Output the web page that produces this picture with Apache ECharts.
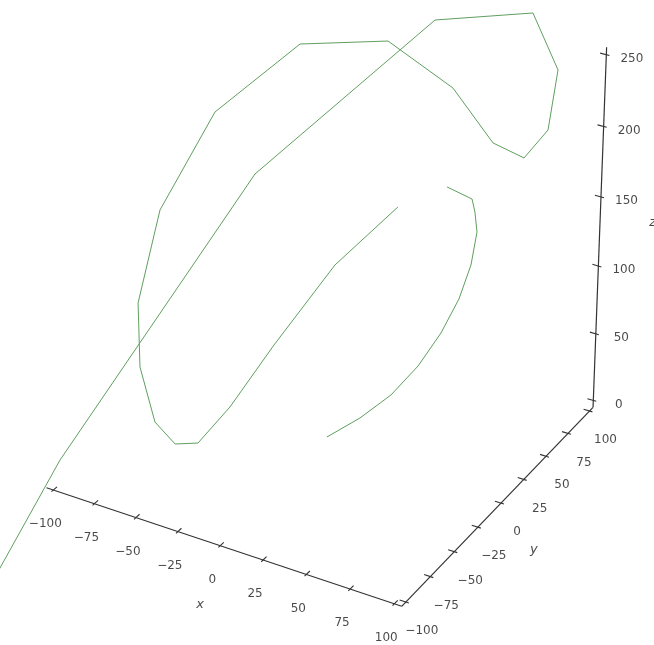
<!DOCTYPE html>
<html>
<head>
<meta charset="utf-8">
<script src="https://cdn.jsdelivr.net/npm/echarts@6/dist/echarts.min.js"></script>
<style>
  html, body { margin: 0; padding: 0; background: #ffffff; }
  #chart { width: 654px; height: 645px; }
</style>
</head>
<body>
<div id="chart"></div>
<script>
// ---- axis limits and tick values ----
const xLim = [-100, 100];
const yLim = [-100, 100];
const zLim = [0, 250];
const xTicks = [-100, -75, -50, -25, 0, 25, 50, 75, 100];
const yTicks = [-100, -75, -50, -25, 0, 25, 50, 75, 100];
const zTicks = [0, 50, 100, 150, 200, 250];

// ---- the 3D curve: inner arc, then the outer loops ----
const innerX = [-0.1, 14.6, 26.5, 35.7, 43.0, 48.3, 50.3, 50.8, 48.1, 45.8, 32.8];
const innerY = [3.2, 12.1, 23.6, 35.7, 46.7, 55.9, 64.7, 69.7, 72.1, 73.0, 69.9];
const innerZ = [0, 14, 28, 45, 65, 86, 106, 127, 139, 147, 153];

const outerX = [14.7, -5.7, -22.5, -35.2, -43.2, -50.2, -58.3, -67.9, -74.7, -71.8, -59.2, -29.8,
                3.9, 37.5, 63.5, 83.6, 97.4, 107.1, 100.1, 62.6, -7.7, -90.9, -128.9];
const outerY = [50.5, 21.1, -12.4, -35.7, -54.5, -65.4, -71.3, -69.2, -59.0, -41.0, -7.3, 27.5,
                58.0, 65.6, 60.8, 56.2, 54.5, 44.0, 28.9, -1.3, -54.2, -110.4, -142.5];
const outerZ = [144, 113, 70, 35, 18, 22, 39, 74, 111, 167, 220, 257,
                253, 227, 200, 199, 224, 274, 318, 318, 222, 25, -89];

// ---- view (elevation / azimuth / camera distance) ----
const ELEV = 30, AZIM = -60, DIST = 10;

// the drawn box is a little larger than the limits (1/48 of the range on each side)
function padded(lim) { const d = (lim[1] - lim[0]) / 48; return [lim[0] - d, lim[1] + d]; }
const XB = padded(xLim), YB = padded(yLim), ZB = padded(zLim);

const er = ELEV * Math.PI / 180, ar = AZIM * Math.PI / 180;
const nV = [Math.cos(ar) * Math.cos(er), Math.sin(ar) * Math.cos(er), Math.sin(er)];
const uV = [-Math.sin(ar), Math.cos(ar), 0];
const vV = [nV[1] * uV[2] - nV[2] * uV[1], nV[2] * uV[0] - nV[0] * uV[2], nV[0] * uV[1] - nV[1] * uV[0]];
const dot = (p, q) => p[0] * q[0] + p[1] * q[1] + p[2] * q[2];

// perspective projection of a data point onto the view plane
function project(x, y, z) {
  const d = [
    (x - XB[0]) / (XB[1] - XB[0]) - 0.5,
    (y - YB[0]) / (YB[1] - YB[0]) - 0.5,
    (z - ZB[0]) / (ZB[1] - ZB[0]) - 0.5
  ];
  const w = DIST - dot(nV, d);
  return [dot(uV, d) / w, dot(vV, d) / w];
}

const curve = (xs, ys, zs) => xs.map((x, i) => project(x, ys[i], zs[i]));

// tick marks run along a neighbouring axis direction
const dX = (XB[1] - XB[0]) / 12, dY = (YB[1] - YB[0]) / 12;
const tickSegs = [];
xTicks.forEach(t => tickSegs.push({ coords: [project(t, YB[0] - 0.1 * dY, ZB[0]), project(t, YB[0] + 0.2 * dY, ZB[0])] }));
yTicks.forEach(t => tickSegs.push({ coords: [project(XB[1] + 0.1 * dX, t, ZB[0]), project(XB[1] - 0.2 * dX, t, ZB[0])] }));
zTicks.forEach(t => tickSegs.push({ coords: [project(XB[1] + 0.1 * dX, YB[1], t), project(XB[1] - 0.2 * dX, YB[1], t)] }));

const spines = [
  { coords: [project(XB[0], YB[0], ZB[0]), project(XB[1], YB[0], ZB[0])] },
  { coords: [project(XB[1], YB[0], ZB[0]), project(XB[1], YB[1], ZB[0])] },
  { coords: [project(XB[1], YB[1], ZB[0]), project(XB[1], YB[1], ZB[1])] }
];

const fmt = v => (v < 0 ? '\u2212' + Math.abs(v) : String(v));
const textColor = '#1a1a1a';
const tickFont = { fontFamily: 'DejaVu Sans', fontSize: 12, color: textColor };

function labelSeries(points, offset, extra) {
  return {
    type: 'scatter',
    symbolSize: 1,
    itemStyle: { color: 'rgba(0,0,0,0)' },
    silent: true,
    z: 5,
    data: points,
    label: Object.assign({
      show: true, position: 'inside', formatter: '{b}', offset: offset,
      align: 'center', verticalAlign: 'middle'
    }, tickFont, extra || {})
  };
}

const xLabels = xTicks.map(t => ({ name: fmt(t), value: project(t, YB[0], ZB[0]) }));
const yLabels = yTicks.map(t => ({ name: fmt(t), value: project(XB[1], t, ZB[0]) }));
const zLabels = zTicks.map(t => ({ name: fmt(t), value: project(XB[1], YB[1], t) }));

const axisNameStyle = { fontStyle: 'italic', fontSize: 13 };

const chart = echarts.init(document.getElementById('chart'), null, { renderer: 'canvas' });
chart.setOption({
  animation: false,
  backgroundColor: '#ffffff',
  grid: { left: -65.5, top: -108.5, width: 758.5, height: 777, outerBoundsMode: 'none', containLabel: false },
  xAxis: { type: 'value', min: -0.095, max: 0.09, show: false },
  yAxis: { type: 'value', min: -0.095, max: 0.09, show: false },
  series: [
    {
      type: 'lines', coordinateSystem: 'cartesian2d', polyline: true, silent: true, clip: false,
      lineStyle: { color: '#333333', width: 1.2, opacity: 1 },
      data: spines, z: 2
    },
    {
      type: 'lines', coordinateSystem: 'cartesian2d', silent: true, clip: false,
      lineStyle: { color: '#333333', width: 1.1, opacity: 1 },
      data: tickSegs, z: 2
    },
    {
      type: 'lines', coordinateSystem: 'cartesian2d', polyline: true, silent: true, clip: false,
      lineStyle: { color: '#5f9f5f', width: 1, opacity: 1 },
      data: [
        { coords: curve(innerX, innerY, innerZ) },
        { coords: curve(outerX, outerY, outerZ) }
      ],
      z: 3
    },
    labelSeries(xLabels, [-8, 34]),
    labelSeries(yLabels, [16, 29]),
    labelSeries(zLabels, [25.5, 4]),
    labelSeries([{ name: 'x', value: project(0, YB[0], ZB[0]) }], [-20, 59], axisNameStyle),
    labelSeries([{ name: 'y', value: project(XB[1], 0, ZB[0]) }], [33, 47], axisNameStyle),
    labelSeries([{ name: 'z', value: project(XB[1], YB[1], (zLim[0] + zLim[1]) / 2) }], [53, -9], axisNameStyle)
  ]
});
</script>
</body>
</html>
